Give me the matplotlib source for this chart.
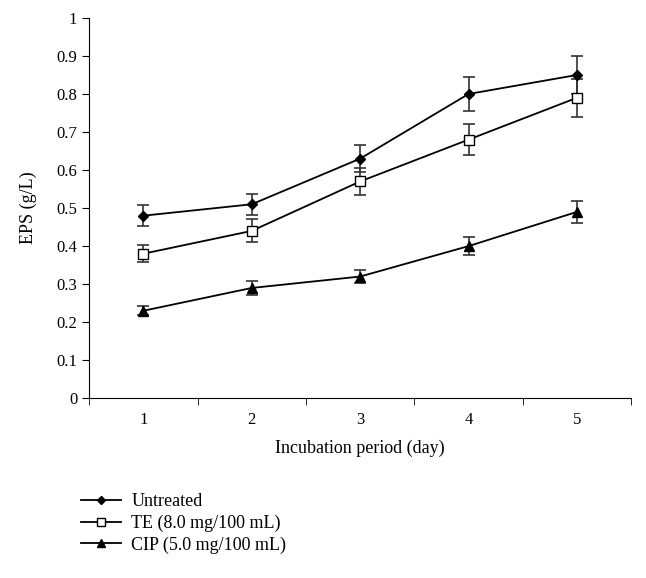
import matplotlib.pyplot as plt
from matplotlib.lines import Line2D
import numpy as np

plt.rcParams['font.family'] = ['Liberation Serif', 'DejaVu Serif']

days = [1, 2, 3, 4, 5]
untreated = [0.48, 0.51, 0.63, 0.80, 0.85]
untreated_err = [0.028, 0.028, 0.035, 0.045, 0.05]
te = [0.38, 0.44, 0.57, 0.68, 0.79]
te_err = [0.022, 0.03, 0.035, 0.04, 0.05]
cip = [0.23, 0.29, 0.32, 0.40, 0.49]
cip_err = [0.012, 0.018, 0.018, 0.024, 0.028]

fig = plt.figure(figsize=(6.46, 5.78), dpi=100)
ax = fig.add_axes([0.138, 0.311, 0.839, 0.658])

kw = dict(color='black', lw=1.3, capsize=4, elinewidth=1.2, capthick=1.2, ecolor='#333333')
ax.errorbar(days, untreated, yerr=untreated_err, marker='D', ms=5.5, mfc='black', **kw)
ax.errorbar(days, te, yerr=te_err, marker='s', ms=6.5, mfc='white', mec='black', **kw)
ax.errorbar(days, cip, yerr=cip_err, marker='^', ms=7, mfc='black', **kw)

ax.set_xlim(0.5, 5.5)
ax.set_ylim(0, 1)
ax.set_yticks(np.arange(0, 1.01, 0.1))
ax.set_yticklabels(['0', '0.1', '0.2', '0.3', '0.4', '0.5', '0.6', '0.7', '0.8', '0.9', '1'])
ax.set_xticks(days)
ax.set_xticks(np.arange(0.5, 5.6, 1), minor=True)
ax.tick_params(axis='x', which='major', length=0, pad=10)
ax.tick_params(axis='x', which='minor', length=5, direction='out')
ax.tick_params(axis='y', length=5, direction='out')
ax.tick_params(labelsize=12)
ax.spines['top'].set_visible(False)
ax.spines['right'].set_visible(False)
ax.set_xlabel('Incubation period (day)', fontsize=13, labelpad=8)
ax.set_ylabel('EPS (g/L)', fontsize=13, labelpad=14)

handles = [
    Line2D([], [], color='black', lw=1.3, marker='D', ms=4.5, mfc='black'),
    Line2D([], [], color='black', lw=1.3, marker='s', ms=5.5, mfc='white', mec='black'),
    Line2D([], [], color='black', lw=1.3, marker='^', ms=6, mfc='black'),
]
labels = ['Untreated', 'TE (8.0 mg/100 mL)', 'CIP (5.0 mg/100 mL)']
fig.legend(handles, labels, loc='upper left', bbox_to_anchor=(0.1, 0.175),
           frameon=False, fontsize=13, handlelength=2.2, labelspacing=0.25,
           handletextpad=0.6)

plt.savefig('out.png', dpi=100)
